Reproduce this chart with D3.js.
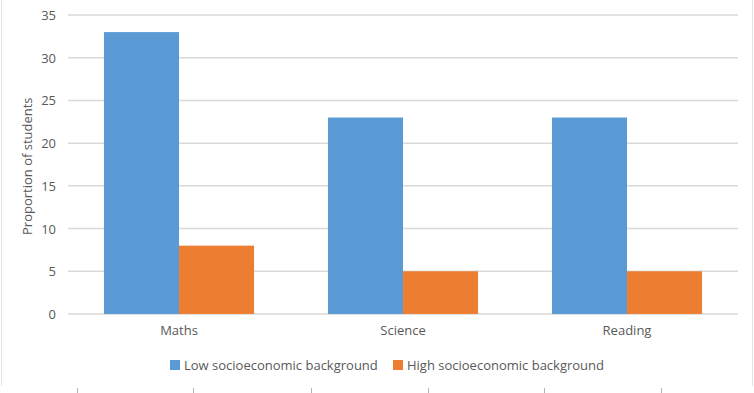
<!DOCTYPE html>
<html>
<head>
<meta charset="utf-8">
<script src="https://cdn.jsdelivr.net/npm/d3@7/dist/d3.min.js"></script>
<style>
body { margin: 0; background: #fff; }
text { font-family: "Open Sans", "Noto Sans", sans-serif; fill: #595959; }
</style>
</head>
<body>
<div id="chart"></div>
<script>
var subjects = ["Maths", "Science", "Reading"]
var seriesNames = ["Low socioeconomic background", "High socioeconomic background"]
var lowValues = [33, 23, 23]
var highValues = [8, 5, 5]
var yTicks = [0, 5, 10, 15, 20, 25, 30, 35]
var colors = ["#5B9BD5", "#ED7D31"]

var width = 754, height = 393

var svg = d3.select("#chart").append("svg")
	.attr("width", width)
	.attr("height", height)

//frame edges of the copied chart
svg.append("line").attr("x1", 1.5).attr("x2", 1.5).attr("y1", 0).attr("y2", 386)
	.style("stroke", "#e3e3e3").style("stroke-width", 1)
svg.append("line").attr("x1", 752.5).attr("x2", 752.5).attr("y1", 0).attr("y2", 386)
	.style("stroke", "#e3e3e3").style("stroke-width", 1)
svg.selectAll(".pagetick").data([77, 193, 311, 428, 544, 661]).enter()
	.append("line")
	.attr("x1", function(d){ return d + 0.5 })
	.attr("x2", function(d){ return d + 0.5 })
	.attr("y1", 388).attr("y2", 393)
	.style("stroke", "#b0b0b0")

var x = d3.scaleBand().domain(subjects).range([67, 739]).paddingInner(0.33).paddingOuter(0.165)
var y = d3.scaleLinear().domain([0, 35]).range([314, 15])

//gridlines
svg.selectAll(".grid").data(yTicks).enter()
	.append("line")
	.attr("x1", 68).attr("x2", 738)
	.attr("y1", function(d){ return y(d) })
	.attr("y2", function(d){ return y(d) })
	.style("stroke", "#d9d9d9")
	.style("stroke-width", 1.5)

//y axis labels
var yAxis = d3.axisLeft(y).tickValues(yTicks).tickSize(0).tickPadding(0)
var gy = svg.append("g").attr("transform", "translate(56,0)").call(yAxis)
gy.select(".domain").remove()
gy.selectAll("text").style("font-size", "13px").style("fill", "#595959").attr("dy", "0.35em")

//bars
var half = x.bandwidth() / 2
var groups = svg.selectAll(".cat").data(subjects).enter()
	.append("g")
	.attr("transform", function(d){ return "translate(" + x(d) + ",0)" })

groups.append("rect")
	.attr("x", 0)
	.attr("y", function(d, i){ return y(lowValues[i]) })
	.attr("width", half)
	.attr("height", function(d, i){ return y(0) - y(lowValues[i]) })
	.style("fill", colors[0])

groups.append("rect")
	.attr("x", half)
	.attr("y", function(d, i){ return y(highValues[i]) })
	.attr("width", half)
	.attr("height", function(d, i){ return y(0) - y(highValues[i]) })
	.style("fill", colors[1])

//x axis
var xAxis = d3.axisBottom(x).tickSize(0).tickPadding(12)
var gx = svg.append("g").attr("transform", "translate(0," + y(0) + ")").call(xAxis)
gx.select(".domain").remove()
gx.selectAll("text").style("font-size", "13px").style("fill", "#595959")

//y title
svg.append("text")
	.attr("transform", "translate(32," + y(17.3) + ") rotate(-90)")
	.attr("text-anchor", "middle")
	.style("font-size", "13px")
	.text("Proportion of students")

//legend
var legendX = [170, 393]
var legend = svg.selectAll(".legend").data(seriesNames).enter()
	.append("g")
	.attr("transform", function(d, i){ return "translate(" + legendX[i] + ",360)" })
legend.append("rect")
	.attr("width", 10).attr("height", 10)
	.style("fill", function(d, i){ return colors[i] })
legend.append("text")
	.attr("x", 14).attr("y", 5).attr("dy", "0.35em")
	.style("font-size", "13px")
	.text(function(d){ return d })
</script>
</body>
</html>
